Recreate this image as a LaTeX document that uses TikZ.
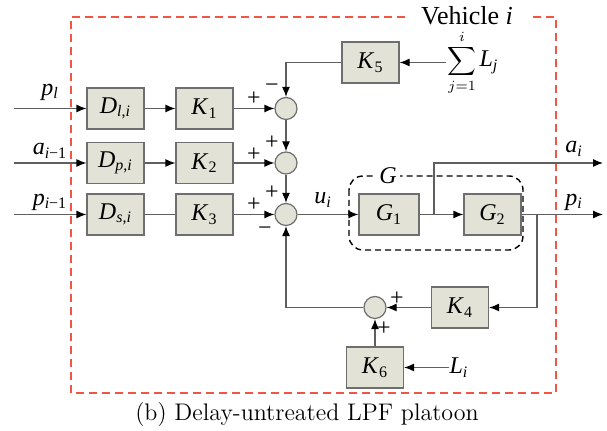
\documentclass[tikz,border=0pt]{standalone}
\usepackage{fontspec}
\newfontfamily\tnr{Liberation Serif}
\usetikzlibrary{arrows.meta}
\definecolor{boxfill}{RGB}{226,227,214}
\definecolor{edgegray}{RGB}{110,110,110}
\definecolor{linegray}{RGB}{95,95,95}
\definecolor{vred}{RGB}{240,85,70}
\newcommand{\vsub}[2]{\textit{#1}\textsubscript{#2}}
\begin{document}
\begin{tikzpicture}[x=0.5pt,y=-0.5pt, font=\tnr\fontsize{12}{14}\selectfont,
 blk/.style={draw=edgegray, fill=boxfill, line width=0.6pt, minimum width=28.5pt, minimum height=20.5pt, inner sep=0pt},
 sumc/.style={circle, draw=edgegray, fill=boxfill, line width=0.6pt, minimum size=11pt, inner sep=0pt},
 wire/.style={draw=linegray, line width=0.6pt},
 arr/.style={wire, -{Latex[length=5pt,width=4pt,color=black]}},
 sgn/.style={inner sep=0pt},
 lbl/.style={inner sep=0pt}]
\useasboundingbox (0,0) rectangle (607,431);

% vehicle frame
\draw[vred, line width=0.7pt, dash pattern=on 4pt off 2.5pt]
  (405,17) -- (71,17) -- (71,393) -- (556,393) -- (556,17) -- (530,17);
\node[lbl, font=\tnr\fontsize{13}{15}\selectfont] (veh) at (467,16) {Vehicle \textit{i}};

% G group
\draw[black, line width=0.7pt, dash pattern=on 3pt off 2pt, rounded corners=7pt]
  (349,176) rectangle (523,250);
\node[fill=white, inner sep=1.5pt] (Glbl) at (388,176) {\textit{G}};

% blocks
\node[blk] (D1) at (115.5,108.5) {\vsub{D}{\textit{l},\textit{i}}};
\node[blk] (D2) at (115.5,163) {\vsub{D}{\textit{p},\textit{i}}};
\node[blk] (D3) at (115.5,214.5) {\vsub{D}{\textit{s},\textit{i}}};
\node[blk] (K1) at (204.5,108.5) {\vsub{K}{1}};
\node[blk] (K2) at (204.5,163) {\vsub{K}{2}};
\node[blk] (K3) at (204.5,214.5) {\vsub{K}{3}};
\node[sumc] (c1) at (286,108.5) {};
\node[sumc] (c2) at (286,163) {};
\node[sumc] (c3) at (286,214.5) {};
\node[blk] (K5) at (370.5,62.5) {\vsub{K}{5}};
\node[blk, minimum width=30pt] (G1) at (389,214.5) {\vsub{G}{1}};
\node[blk] (G2) at (492.5,214.5) {\vsub{G}{2}};
\node[blk] (K4) at (460,307.5) {\vsub{K}{4}};
\node[sumc] (c4) at (375,307.5) {};
\node[blk] (K6) at (375,367.5) {\vsub{K}{6}};

% signal labels
\node[lbl] (sumL) at (473,63) {\fontsize{9.5}{11}\selectfont$\displaystyle\sum_{j=1}^{i}$\,\fontsize{12}{14}\selectfont\vsub{L}{\textit{j}}};
\node[lbl] (Li) at (459,367.5) {\vsub{L}{\textit{i}}};
\node[lbl] (pl) at (50,92) {\vsub{p}{\textit{l}}};
\node[lbl] (aim) at (50,151) {\vsub{a}{\textit{i}−1}};
\node[lbl] (pim) at (50,202) {\vsub{p}{\textit{i}−1}};
\node[lbl] (ui) at (323,200) {\vsub{u}{\textit{i}}};
\node[lbl] (ai) at (574,149) {\vsub{a}{\textit{i}}};
\node[lbl] (pi) at (574,202) {\vsub{p}{\textit{i}}};

% coordinates
\coordinate (in1) at (14,108.5);
\coordinate (in2) at (14,163);
\coordinate (in3) at (14,214.5);
\coordinate (br) at (434,214.5);
\coordinate (brup) at (434,163);
\coordinate (aout) at (603,163);
\coordinate (pout) at (603,214.5);
\coordinate (fb) at (537,214.5);
\coordinate (fbdn) at (537,307.5);
\coordinate (sumw) at (446,62.5);

% connectors
\draw[arr] (in1) -- (D1);
\draw[arr] (in2) -- (D2);
\draw[arr] (in3) -- (D3);
\draw[arr] (D1) -- (K1);
\draw[arr] (D2) -- (K2);
\draw[wire] (D3) -- (K3);
\draw[arr] (K1) -- (c1);
\draw[arr] (K2) -- (c2);
\draw[arr] (K3) -- (c3);
\draw[arr] (c1) -- (c2);
\draw[arr] (c2) -- (c3);
\draw[arr] (sumw) -- (K5);
\draw[arr] (K5.west) -| (c1.north);
\draw[arr] (c3) -- (G1);
\draw[arr] (G1) -- (G2);
\draw[arr] (br) -- (brup) -- (aout);
\draw[arr] (G2) -- (pout);
\draw[arr] (fb) -- (fbdn) -- (K4.east);
\draw[arr] (K4) -- (c4);
\draw[arr] (c4.west) -| (c3.south);
\draw[arr] (K6) -- (c4);
\draw[arr] (Li) -- (K6);

% signs
\node[sgn] (s1) at (254,99) {+};
\node[sgn] (s2) at (254,155) {+};
\node[sgn] (s3) at (254,205) {+};
\node[sgn] (m1) at (272,88) {−};
\node[sgn] (s4) at (272,143) {+};
\node[sgn] (s5) at (272,193) {+};
\node[sgn] (m2) at (265,231) {−};
\node[sgn] (s6) at (397,299) {+};
\node[sgn] (s7) at (384,329) {+};

% caption
\node[lbl, font=\fontsize{12}{14}\selectfont] (cap) at (307,415) {(b) Delay-untreated LPF platoon};
\end{tikzpicture}
\end{document}
